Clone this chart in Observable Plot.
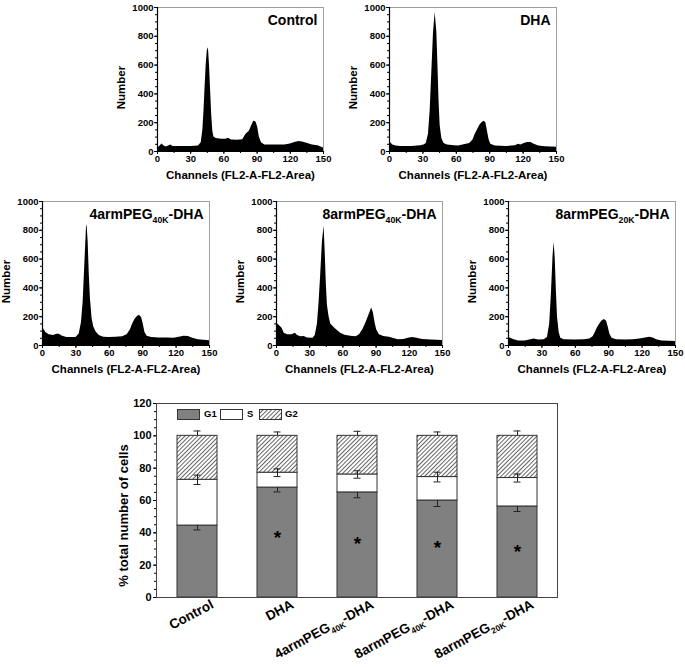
<!DOCTYPE html>
<html><head><meta charset="utf-8">
<script src="https://cdn.jsdelivr.net/npm/d3@7"></script>
<script src="https://cdn.jsdelivr.net/npm/@observablehq/plot@0.6"></script>
<style>
body{margin:0;background:#fff;}
#root{position:relative;width:685px;height:667px;overflow:hidden;font-family:"Liberation Sans",Arial,Helvetica,sans-serif;font-weight:bold;color:#000;}
.lt{position:absolute;font-size:9.5px;font-weight:bold;line-height:10px;}
</style></head><body>
<svg width="0" height="0" style="position:absolute"><defs>
<pattern id="hatch" patternUnits="userSpaceOnUse" width="3" height="3" patternTransform="rotate(45)">
<rect width="3" height="3" fill="white"/><line x1="0.5" y1="0" x2="0.5" y2="3" stroke="#555" stroke-width="0.9"/>
</pattern></defs></svg>
<div id="root"></div>
<script>
// ---------- histogram data (channel, count) ----------
const ctrlX = [0,2,4,6,8,10,12,14,20,30,37,39.5,41,42,43,44,45,46,47,48,49,50,51,53,58,62,64,67,72,77,80,83,85.5,87,89,90.5,92,94,97,105,115,120,124,128,131,135,140,145,150];
const ctrlY = [25,35,52,38,32,38,45,35,35,35,38,60,150,280,450,600,700,720,600,420,250,140,100,90,85,85,92,80,78,82,120,140,185,210,205,170,100,60,45,45,45,52,62,70,66,58,45,40,25];

const dhaX = [0,1,3,6,10,20,28,31,33,35,36.5,38,39.5,41,42.5,43.5,44.5,45.5,47,49,52,58,62,66,72,75,77,79,81,83,85,86.5,88,89.5,91,95,105,113,116,118,121,124,127,130,134,140,150];
const dhaY = [70,60,45,38,35,35,40,45,55,120,280,550,820,965,830,600,350,180,90,55,45,40,38,45,55,80,120,150,180,200,210,200,140,80,50,38,35,40,50,45,55,62,62,50,38,33,30];

const arm4X = [0,1,3,6,10,13,15,18,22,27,30,33,35,36.5,38,39.5,40,41,42,43,44.5,46,48,51,55,60,66,72,76,79,81,83,85,87,89,90.5,92,94,98,105,112,118,123,127,131,135,140,150];
const arm4Y = [140,115,90,75,70,78,78,65,55,55,55,80,160,300,560,820,840,720,500,330,190,130,95,70,58,55,58,60,75,110,150,180,200,210,195,150,90,65,55,52,52,50,58,65,62,50,40,33];

const arm8X = [0,1,3,5,7,10,14,17,19,22,25,28,33,35,37,38.5,40,41.5,43,44,45,46,47.5,49,52,55,58,62,67,72,75,78,81,84,86,87.5,89,90.5,93,97,102,106,110,115,119,123,127,132,140,150];
const arm8Y = [200,150,135,120,85,75,75,85,70,60,62,52,50,70,150,300,500,720,830,650,430,280,200,150,125,105,85,72,65,60,75,110,160,220,260,230,160,110,75,62,58,48,40,42,50,55,50,42,38,35];

const arm8sX = [0,2,5,9,15,19,23,27,32,35,37,38.5,40,41,42,43,44,45.5,47,50,60,68,73,76,78,80,82,84,86,88,89.5,91,93,97,105,112,118,123,127,130,133,138,145,150];
const arm8sY = [55,50,40,32,32,38,45,38,40,55,150,350,620,715,600,380,200,90,50,40,38,40,45,60,90,125,150,170,180,170,130,80,50,40,38,40,45,52,58,52,40,32,30,28];

const histTitles = ["Control","DHA","4armPEG_{40K}-DHA","8armPEG_{40K}-DHA","8armPEG_{20K}-DHA"];
const histXTicks = [0,30,60,90,120,150];
const histYTicks = [0,200,400,600,800,1000];

// ---------- bar chart data ----------
const groups = ["Control","DHA","4armPEG_{40K}-DHA","8armPEG_{40K}-DHA","8armPEG_{20K}-DHA"];
const g1 = [44.5, 68, 65, 60, 56.3];
const sPhase = [28.3, 9.2, 11.1, 14.5, 17.6];
const g2 = [27.2, 22.8, 23.9, 25.5, 26.1];
const g1Err = [2.7, 2.7, 3.3, 3.7, 3.1];
const sErr = [2.9, 2.4, 2.3, 3.0, 2.5];
const g2Err = [3.0, 2.4, 2.8, 2.4, 3.0];
const starY = [null, 39.7, 36.2, 33.7, 31.0];
const barYTicks = [0,20,40,60,80,100,120];
const legendLabels = ["G1","S","G2"];

// ---------- helpers ----------
const FONT = '"Liberation Sans", Arial, Helvetica, sans-serif';
const root = document.getElementById("root");
function place(node, left, top){
  node.style.position = "absolute";
  node.style.left = left + "px";
  node.style.top = top + "px";
  root.appendChild(node);
}
function subify(node, shift){
  d3.select(node).selectAll("text").each(function(){
    const t = this.textContent;
    const m = t.match(/^(.*)_\{(.*)\}(.*)$/);
    if (!m) return;
    const s = d3.select(this);
    s.text(null);
    s.append("tspan").text(m[1]);
    s.append("tspan").attr("dy", shift).attr("font-size", "62%").text(m[2]);
    s.append("tspan").attr("dy", -shift).text(m[3]);
  });
}
const plain = d => String(d);

// ---------- histograms ----------
const panels = [
  {xs: ctrlX, ys: ctrlY, L:157, R:323, T:7,   B:151},
  {xs: dhaX,  ys: dhaY,  L:389, R:556, T:7,   B:151},
  {xs: arm4X, ys: arm4Y, L:42,  R:209, T:201, B:345},
  {xs: arm8X, ys: arm8Y, L:276, R:442, T:201, B:345},
  {xs: arm8sX,ys: arm8sY,L:508, R:675, T:201, B:345}
];
panels.forEach((p, k) => {
  const ml = 50, mr = 10, mt = 10, mb = 42;
  const data = p.xs.map((x, i) => ({x, y: p.ys[i]}));
  const chart = Plot.plot({
    width: p.R - p.L + ml + mr, height: p.B - p.T + mt + mb,
    marginLeft: ml, marginRight: mr, marginTop: mt, marginBottom: mb,
    style: {fontFamily: FONT, fontWeight: "bold", fontSize: "9.5px", color: "black", background: "transparent", overflow: "visible"},
    x: {domain: [0, 150]},
    y: {domain: [0, 1000]},
    marks: [
      Plot.frame({stroke: "#a0a0a0"}),
      Plot.areaY(data, {x: "x", y: "y", fill: "black", curve: "linear"}),
      Plot.ruleX([0], {stroke: "black", strokeWidth: 1.2}),
      Plot.ruleY([0], {stroke: "black", strokeWidth: 1.2}),
      Plot.axisX({ticks: histXTicks, tickSize: 3, tickPadding: 1, tickFormat: plain, label: null}),
      Plot.axisX({ticks: d3.range(0, 151, 15), tickSize: 2, tickFormat: () => "", label: null}),
      Plot.axisY({ticks: histYTicks, tickSize: 3, tickPadding: 1, tickFormat: plain, label: null}),
      Plot.axisY({ticks: d3.range(0, 1001, 50), tickSize: 2, tickFormat: () => "", label: null}),
      Plot.text(["Number"], {frameAnchor: "left", textAnchor: "middle", rotate: -90, dx: -36, dy: 8, fontSize: 11.5}),
      Plot.text(["Channels (FL2-A-FL2-Area)"], {frameAnchor: "bottom", dy: 27, fontSize: 11.5}),
      Plot.text([histTitles[k]], {frameAnchor: "top-right", lineAnchor: "top", dx: -6, dy: 8, fontSize: 14})
    ]
  });
  subify(chart, 3.5);
  place(chart, p.L - ml, p.T - mt);
});

// ---------- stacked bar chart ----------
const rows = groups.map((g, i) => {
  const a = g1[i], b = g1[i] + sPhase[i], c = g1[i] + sPhase[i] + g2[i];
  return {g, a, b, c, e1: a - g1Err[i], sLo: b - sErr[i], sHi: b + sErr[i], e3: c + g2Err[i], star: starY[i]};
});
const bml = 70, bmr = 9, bmt = 13, bmb = 70;
const bar = Plot.plot({
  width: 480, height: 277, marginLeft: bml, marginRight: bmr, marginTop: bmt, marginBottom: bmb,
  style: {fontFamily: FONT, fontWeight: "bold", fontSize: "11px", color: "black", background: "transparent", overflow: "visible"},
  x: {domain: groups, paddingInner: 0.5, paddingOuter: 0.25},
  y: {domain: [0, 120]},
  marks: [
    Plot.barY(rows, {x: "g", y1: 0, y2: "a", fill: "#808080", stroke: "#333", strokeWidth: 1}),
    Plot.barY(rows, {x: "g", y1: "a", y2: "b", fill: "white", stroke: "#333", strokeWidth: 1}),
    Plot.barY(rows, {x: "g", y1: "b", y2: "c", fill: "url(#hatch)", stroke: "#333", strokeWidth: 1}),
    Plot.ruleX(rows, {x: "g", y1: "e1", y2: "a", stroke: "#222"}),
    Plot.tickY(rows, {x: "g", y: "e1", stroke: "#222", insetLeft: 16.5, insetRight: 16.5}),
    Plot.ruleX(rows, {x: "g", y1: "sLo", y2: "sHi", stroke: "#222"}),
    Plot.tickY(rows, {x: "g", y: "sLo", stroke: "#222", insetLeft: 16.5, insetRight: 16.5}),
    Plot.tickY(rows, {x: "g", y: "sHi", stroke: "#222", insetLeft: 16.5, insetRight: 16.5}),
    Plot.ruleX(rows, {x: "g", y1: "c", y2: "e3", stroke: "#222"}),
    Plot.tickY(rows, {x: "g", y: "e3", stroke: "#222", insetLeft: 16.5, insetRight: 16.5}),
    Plot.text(rows.filter(d => d.star != null), {x: "g", y: "star", text: () => "*", fontSize: 19, dy: 5}),
    Plot.frame({stroke: "#444"}),
    Plot.axisY({ticks: barYTicks, tickSize: 3, tickPadding: 2, tickFormat: plain, label: null}),
    Plot.axisY({ticks: d3.range(0, 121, 5), tickSize: 2, tickFormat: () => "", label: null}),
    Plot.axisX({tickSize: 0, tickRotate: -28, tickPadding: 6, dx: 15, fontSize: 13.5, label: null}),
    Plot.text(["% total number of cells"], {frameAnchor: "left", textAnchor: "middle", rotate: -90, dx: -33, dy: 15, fontSize: 13})
  ]
});
subify(bar, 4);
place(bar, 156 - bml, 403 - bmt);

// ---------- legend (inside bar chart) ----------
const legendFills = ["#808080", "white", "url(#hatch)"];
const legendPos = [{sx:177, tx:204}, {sx:220, tx:247}, {sx:259, tx:285}];
legendLabels.forEach((lab, i) => {
  const sw = document.createElementNS("http://www.w3.org/2000/svg", "svg");
  sw.setAttribute("width", 23); sw.setAttribute("height", 11);
  const r = document.createElementNS("http://www.w3.org/2000/svg", "rect");
  r.setAttribute("x", 0.5); r.setAttribute("y", 0.5); r.setAttribute("width", 22); r.setAttribute("height", 10);
  r.setAttribute("fill", legendFills[i]); r.setAttribute("stroke", "#333");
  sw.appendChild(r);
  place(sw, legendPos[i].sx, 409);
  const t = document.createElement("div");
  t.className = "lt"; t.textContent = lab;
  place(t, legendPos[i].tx, 409);
});
</script>
</body></html>
